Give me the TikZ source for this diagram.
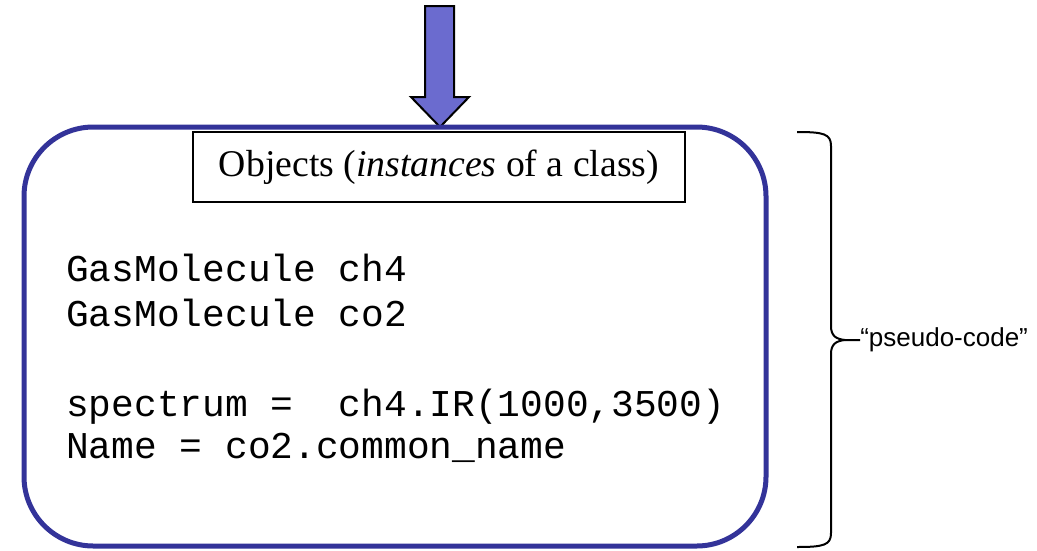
\documentclass[tikz,border=0pt]{standalone}
\usepackage{fontspec}
\setmainfont{Liberation Serif}
\newfontfamily\codefont{Liberation Mono}
\newfontfamily\notefont{Liberation Sans}
\usetikzlibrary{calc}
\usepackage{xcolor}
\definecolor{frameblue}{RGB}{51,51,153}
\definecolor{arrowblue}{RGB}{107,107,207}

\begin{document}
\begin{tikzpicture}[x=0.75pt,y=-0.75pt,
        codeline/.style={anchor=base west,inner sep=0pt,font=\codefont\fontsize{28.4}{34}\selectfont},
        titlebox/.style={draw,line width=1.5pt,minimum width=369pt,minimum height=52.5pt,inner sep=0pt,font=\fontsize{28.3}{33}\selectfont}]
        \useasboundingbox (0,0) rectangle (1037,550);

        \coordinate (T) at (440,127);
        \coordinate (S) at ($(T)+(0,-121)$);

        % the big arrow on top
        \draw[fill=arrowblue,line width=1.5pt,line join=miter]
            ($(S)+(-15,0)$) -- ($(S)+(14,0)$) -- ($(T)+(14,-30)$) -- ($(T)+(29,-30)$)
            -- (T) -- ($(T)+(-29,-30)$) -- ($(T)+(-15,-30)$) -- cycle;

        \draw[frameblue,line width=3.75pt,rounded corners=52pt] (24,127) rectangle (766,546);

        \node[titlebox] (title) at (439,167) {Objects (\textit{instances} of a class)};

        \node[codeline] (l1) at (66,281) {GasMolecule ch4};
        \node[codeline] (l2) at (66,326) {GasMolecule co2};
        \node[codeline] (l3) at (66,416) {spectrum =\ \ ch4.IR(1000,3500)};
        \node[codeline] (l4) at (66,458) {Name = co2.common\_name};

        % brace round the code
        \coordinate (B1) at (797,132);
        \coordinate (B2) at (797,547);
        \coordinate (tip) at (860,340);
        \draw[line width=1.5pt]
            (B1) .. controls (824,132) and (831,134) .. (831,146) -- (831,326)
            .. controls (831,336) and (836,339) .. (845,340) -- (tip);
        \draw[line width=1.5pt]
            (B2) .. controls (824,547) and (831,545) .. (831,533) -- (831,354)
            .. controls (831,344) and (836,341) .. (845,340);
        \node[anchor=west,inner sep=0pt,font=\notefont\fontsize{19.5}{23}\selectfont] (pseudo) at (tip) {“pseudo-code”};
    \end{tikzpicture}
\end{document}
